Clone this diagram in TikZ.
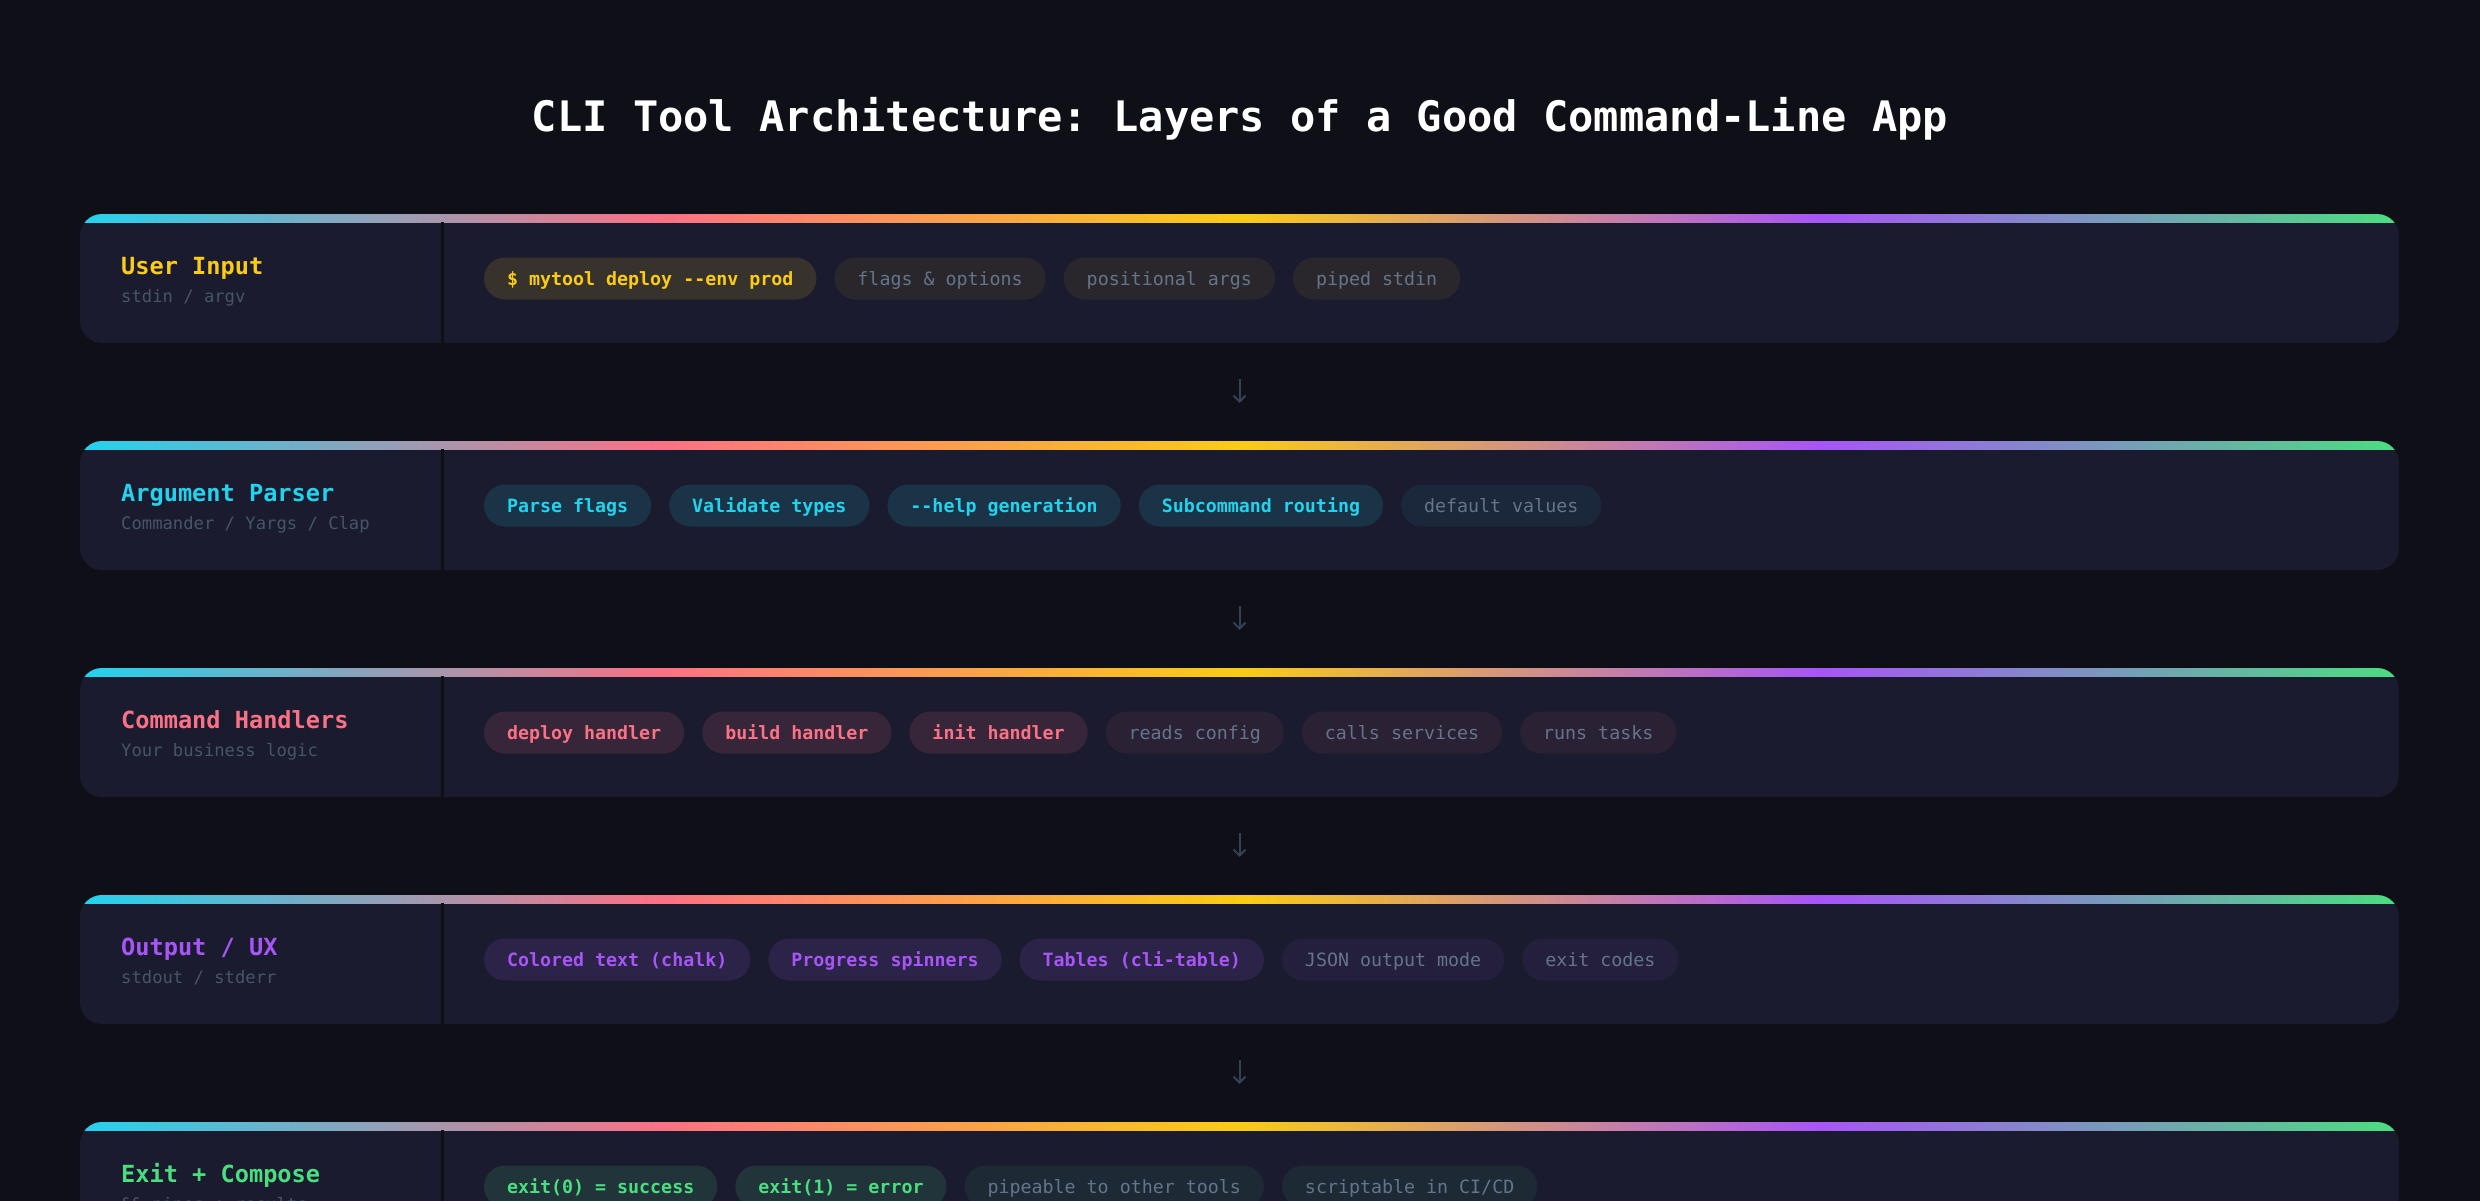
\documentclass[tikz,border=0pt]{standalone}
\usepackage{fontspec}
\setmonofont{DejaVu Sans Mono}
\usetikzlibrary{arrows.meta,positioning}

\definecolor{pagebg}{HTML}{0F0F18}
\definecolor{panelbg}{HTML}{1A1B2E}
\definecolor{dimtext}{HTML}{475569}
\definecolor{chiptext}{HTML}{64748B}
\definecolor{arrowgray}{HTML}{334155}
\definecolor{inyellow}{HTML}{FACC15}
\definecolor{incyan}{HTML}{22D3EE}
\definecolor{incoral}{HTML}{FB7185}
\definecolor{inpurple}{HTML}{A855F7}
\definecolor{ingreen}{HTML}{4ADE80}

\pgfdeclarehorizontalshading{layerbar}{100bp}{color(0bp)=(incyan); color(25bp)=(incyan); color(37.5bp)=(incoral); color(50bp)=(inyellow); color(62.5bp)=(inpurple); color(75bp)=(ingreen); color(100bp)=(ingreen)}

\newcommand\headfont{\ttfamily\bfseries\fontsize{42}{50}\selectfont}
\newcommand\namefont{\ttfamily\bfseries\fontsize{23.6}{28}\selectfont}
\newcommand\subfont{\ttfamily\fontsize{17.2}{20}\selectfont}
\newcommand\chipbold{\ttfamily\bfseries\fontsize{18.3}{22}\selectfont}
\newcommand\chipthin{\ttfamily\fontsize{18.3}{22}\selectfont}

\tikzset{
  headline/.style={anchor=base,text=white,font=\headfont,inner sep=0pt},
  layer/.style={rounded corners=22pt,fill=panelbg,minimum width=2319pt,minimum height=129pt,inner sep=0pt,outer sep=0pt,
    path picture={
      \shade[sharp corners,shading=layerbar](path picture bounding box.north west)rectangle([yshift=-8pt]path picture bounding box.north east);
      \draw[sharp corners,pagebg,line width=3pt]([shift={(362pt,-8pt)}]path picture bounding box.north west)--([xshift=362pt]path picture bounding box.south west);}},
  layername/.style={anchor=base west,font=\namefont,inner sep=0pt},
  layersub/.style={anchor=base west,font=\subfont,text=dimtext,inner sep=0pt},
  chip/.style={rounded corners=21pt,minimum height=42pt,inner xsep=23pt,inner ysep=0pt,text height=17pt,text depth=3pt,outer sep=0pt},
  accentchip/.style={chip,fill=#1!13!panelbg,text=#1,font=\chipbold},
  plainchip/.style={chip,fill=#1!7!panelbg,text=chiptext,font=\chipthin},
  flow/.style={arrowgray,line width=2pt,-{Straight Barb[length=6pt,width=12pt]},shorten <=36pt,shorten >=38pt}
}

\begin{document}
\begin{tikzpicture}[x=1pt,y=1pt]
\useasboundingbox(0,0)rectangle(2480,-1200);
\fill[pagebg](-10,10)rectangle(2490,-1210);
\node[headline](head)at(1240,-131){CLI Tool Architecture: Layers of a Good Command-Line App};

% the five layers
\node[layer](input)at(1239.5,-278.5){};
\node[layer,below=98pt of input](parser){};
\node[layer,below=98pt of parser](handlers){};
\node[layer,below=98pt of handlers](output){};
\node[layer,below=98pt of output](compose){};

% layer names
\node[layername,text=inyellow](inputname)at([shift={(41pt,-60pt)}]input.north west){User Input};
\node[layersub](inputsub)at([shift={(41pt,-88pt)}]input.north west){stdin / argv};
\node[layername,text=incyan](parsername)at([shift={(41pt,-60pt)}]parser.north west){Argument Parser};
\node[layersub](parsersub)at([shift={(41pt,-88pt)}]parser.north west){Commander / Yargs / Clap};
\node[layername,text=incoral](handlersname)at([shift={(41pt,-60pt)}]handlers.north west){Command Handlers};
\node[layersub](handlerssub)at([shift={(41pt,-88pt)}]handlers.north west){Your business logic};
\node[layername,text=inpurple](outputname)at([shift={(41pt,-60pt)}]output.north west){Output / UX};
\node[layersub](outputsub)at([shift={(41pt,-88pt)}]output.north west){stdout / stderr};
\node[layername,text=ingreen](composename)at([shift={(41pt,-60pt)}]compose.north west){Exit + Compose};
\node[layersub](composesub)at([shift={(41pt,-88pt)}]compose.north west){\&\& pipes + results};

% chips
\node[accentchip=inyellow,anchor=west](in1)at([xshift=404pt]input.west){\$ mytool deploy --env prod};
\node[plainchip=inyellow,right=18pt of in1](in2){flags \& options};
\node[plainchip=inyellow,right=18pt of in2](in3){positional args};
\node[plainchip=inyellow,right=18pt of in3](in4){piped stdin};

\node[accentchip=incyan,anchor=west](pa1)at([xshift=404pt]parser.west){Parse flags};
\node[accentchip=incyan,right=18pt of pa1](pa2){Validate types};
\node[accentchip=incyan,right=18pt of pa2](pa3){--help generation};
\node[accentchip=incyan,right=18pt of pa3](pa4){Subcommand routing};
\node[plainchip=incyan,right=18pt of pa4](pa5){default values};

\node[accentchip=incoral,anchor=west](ha1)at([xshift=404pt]handlers.west){deploy handler};
\node[accentchip=incoral,right=18pt of ha1](ha2){build handler};
\node[accentchip=incoral,right=18pt of ha2](ha3){init handler};
\node[plainchip=incoral,right=18pt of ha3](ha4){reads config};
\node[plainchip=incoral,right=18pt of ha4](ha5){calls services};
\node[plainchip=incoral,right=18pt of ha5](ha6){runs tasks};

\node[accentchip=inpurple,anchor=west](ou1)at([xshift=404pt]output.west){Colored text (chalk)};
\node[accentchip=inpurple,right=18pt of ou1](ou2){Progress spinners};
\node[accentchip=inpurple,right=18pt of ou2](ou3){Tables (cli-table)};
\node[plainchip=inpurple,right=18pt of ou3](ou4){JSON output mode};
\node[plainchip=inpurple,right=18pt of ou4](ou5){exit codes};

\node[accentchip=ingreen,anchor=west](co1)at([xshift=404pt]compose.west){exit(0) = success};
\node[accentchip=ingreen,right=18pt of co1](co2){exit(1) = error};
\node[plainchip=ingreen,right=18pt of co2](co3){pipeable to other tools};
\node[plainchip=ingreen,right=18pt of co3](co4){scriptable in CI/CD};

% flow between layers
\draw[flow](input)--(parser);\draw[flow](parser)--(handlers);
\draw[flow](handlers)--(output);\draw[flow](output)--(compose);
\end{tikzpicture}
\end{document}
